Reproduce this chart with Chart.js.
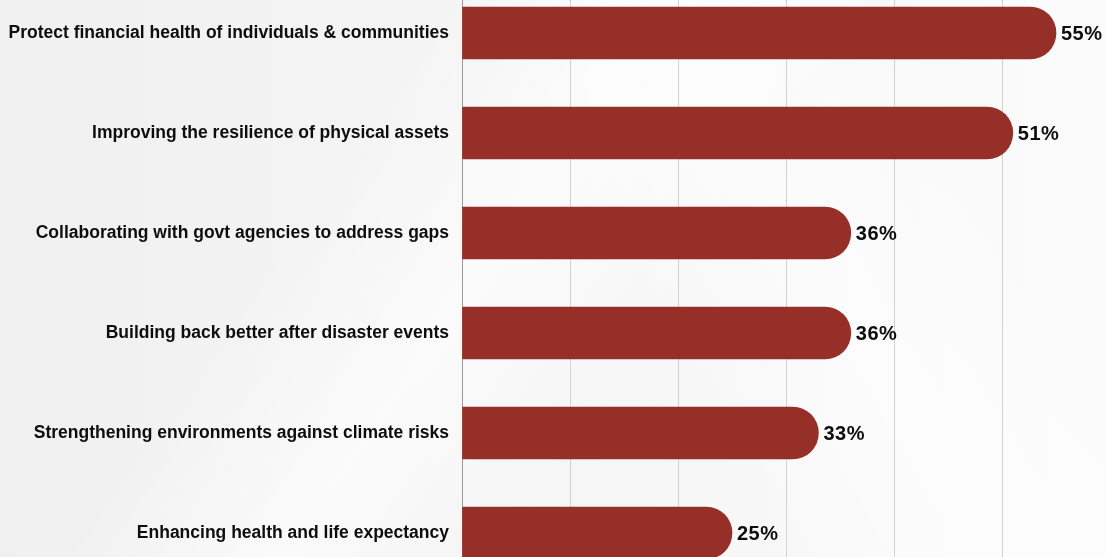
<!DOCTYPE html>
<html>
<head>
<meta charset="utf-8">
<script src="https://cdn.jsdelivr.net/npm/chart.js@4"></script>
<style>
    html, body {
        margin: 0;
        padding: 0;
        width: 1105px;
        height: 557px;
        overflow: hidden;
    }
    body {
        position: relative;
        background:
            linear-gradient(125deg, rgba(255,255,255,0) 30%, rgba(255,255,255,0.6) 45%, rgba(255,255,255,0) 60%),
            linear-gradient(60deg, rgba(255,255,255,0) 55%, rgba(255,255,255,0.5) 70%, rgba(255,255,255,0) 85%),
            linear-gradient(90deg, #f0f0f1 0%, #f5f5f6 45%, #fbfbfb 100%);
    }
    #wrap {
        position: absolute;
        left: 0;
        top: -17px;
        width: 1110px;
        height: 600px;
    }
</style>
</head>
<body>
<div id="wrap"><canvas id="chart"></canvas></div>
<script>
const categorias = [
    'Protect financial health of individuals & communities',
    'Improving the resilience of physical assets',
    'Collaborating with govt agencies to address gaps',
    'Building back better after disaster events',
    'Strengthening environments against climate risks',
    'Enhancing health and life expectancy'
];
const percentuais = [55, 51, 36, 36, 33, 25];
const corBarra = '#952f28';

// Rótulo com o valor logo após o fim de cada barra
const rotuloValor = {
    id: 'rotuloValor',
    afterDatasetsDraw(chart) {
        const ctx = chart.ctx;
        const meta = chart.getDatasetMeta(0);
        ctx.save();
        ctx.font = 'bold 20px "Liberation Sans", Arial, sans-serif';
        ctx.letterSpacing = '0.5px';
        ctx.fillStyle = '#0d0d0d';
        ctx.textAlign = 'left';
        ctx.textBaseline = 'middle';
        meta.data.forEach((bar, i) => {
            ctx.fillText(percentuais[i] + '%', bar.x + 5, bar.y + 1);
        });
        ctx.restore();
    }
};

const ctx = document.getElementById('chart').getContext('2d');
new Chart(ctx, {
    type: 'bar',
    data: {
        labels: categorias,
        datasets: [{
            data: percentuais,
            backgroundColor: corBarra,
            borderRadius: 26,
            borderSkipped: 'start',
            barThickness: 52
        }]
    },
    options: {
        indexAxis: 'y',
        responsive: true,
        maintainAspectRatio: false,
        animation: false,
        layout: { padding: 0 },
        scales: {
            x: {
                min: 0,
                max: 60,
                afterFit: function(scale) {
                    scale.height = 0;
                    scale.paddingLeft = 0;
                    scale.paddingRight = 0;
                },
                ticks: { display: false, stepSize: 10 },
                grid: {
                    color: '#d2d2d2',
                    lineWidth: 1,
                    drawTicks: false
                },
                border: { display: false }
            },
            y: {
                afterFit: function(scale) {
                    scale.width = 462;
                    scale.paddingTop = 0;
                    scale.paddingBottom = 0;
                },
                grid: { display: false, drawTicks: false },
                border: { color: '#9a9a9a', width: 1 },
                ticks: {
                    padding: 13,
                    color: '#0d0d0d',
                    font: {
                        family: '"Liberation Sans", Arial, sans-serif',
                        size: 17.5,
                        weight: 'bold'
                    }
                }
            }
        },
        plugins: {
            legend: { display: false },
            tooltip: { enabled: false }
        }
    },
    plugins: [rotuloValor]
});
</script>
</body>
</html>
